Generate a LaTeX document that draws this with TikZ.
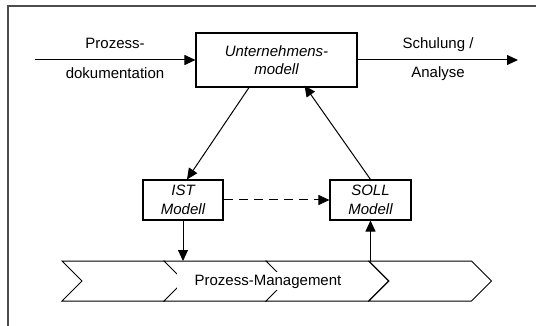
\documentclass[tikz,border=0pt]{standalone}
\usepackage{fontspec}
\setmainfont{Liberation Sans}
\usetikzlibrary{arrows.meta}
\tikzset{
  box/.style={draw=black, line width=1.1pt, fill=white, inner sep=0pt, align=center,
    font=\fontsize{15}{18.5}\selectfont\itshape},
  lbl/.style={inner sep=0pt, font=\fontsize{15}{18}\selectfont, text height=11pt, text depth=3pt},
  conn/.style={line width=1pt, -{Triangle[length=11pt,width=10pt]}},
  chev/.style={draw=black, line width=1pt, fill=white, line join=miter},
}
\begin{document}
\begin{tikzpicture}[x=1pt,y=-1pt]
\useasboundingbox (0,0) rectangle (536,326);
% outer frame (partly cropped)
\draw[black!70, line width=1.6pt] (8,340) -- (8,6) -- (550,6);
% boxes
\node[box, minimum width=161pt, minimum height=54pt] (um) at (276.5,60) {Unternehmens-\\modell};
\node[box, minimum width=80pt, minimum height=40pt] (ist) at (183,200) {IST\\Modell};
\node[box, minimum width=81pt, minimum height=40pt] (soll) at (370.5,200) {SOLL\\Modell};
% input / output
\coordinate (in) at (35,60);
\coordinate (out) at (518,60);
\draw[conn] (in) -- (um.west);
\draw[conn] (um.east) -- (out);
\node[lbl] (l1) at (115,45) {Prozess-};
\node[lbl] (l2) at (115,75) {dokumentation};
\node[lbl] (l3) at (438,45) {Schulung /};
\node[lbl] (l4) at (438,74) {Analyse};
% chevrons
\foreach \L in {62,164,266,369}{
  \draw[chev] (\L,261) -- (\L+102.5,261) -- (\L+122.5,281) -- (\L+102.5,301) -- (\L,301) -- (\L+20,281) -- cycle;
}
\node[lbl, fill=white, minimum width=182pt, minimum height=18pt, text height=11pt, text depth=3pt] (pm) at (268,281) {Prozess-Management};
\coordinate (pmtop) at (0,261);
% connectors
\draw[conn] ([xshift=-27.5pt]um.south) -- ([xshift=4pt]ist.north);
\draw[conn] (soll.north) -- ([xshift=28pt,yshift=2pt]um.south);
\draw[conn, dash pattern=on 9pt off 6pt] (ist.east) -- (soll.west);
\draw[conn] (ist.south) -- (ist.south |- pmtop);
\draw[conn] (soll.south |- pmtop) -- (soll.south);
\end{tikzpicture}
\end{document}
